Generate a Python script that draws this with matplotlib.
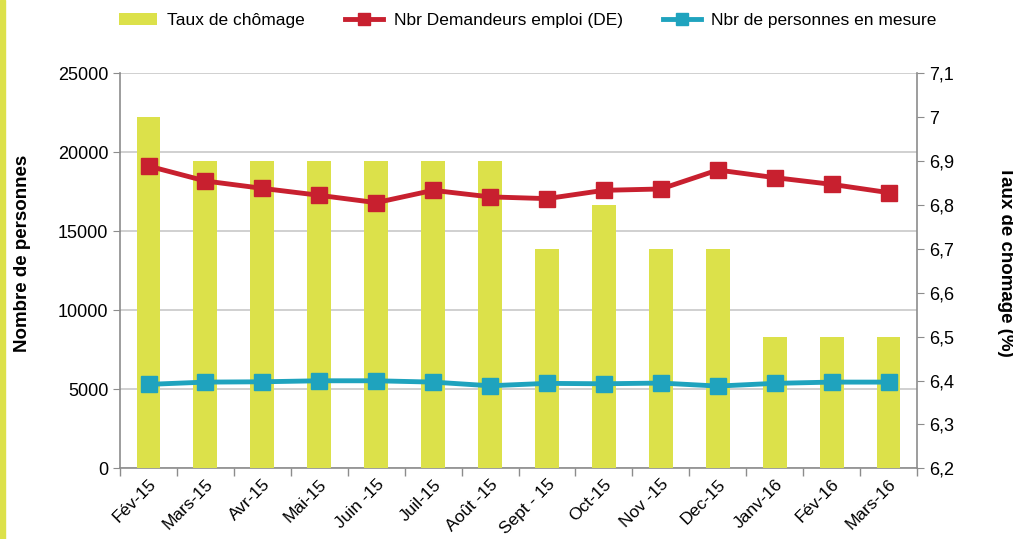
import matplotlib.pyplot as plt
from matplotlib.patches import Rectangle
from matplotlib.ticker import FuncFormatter
import numpy as np

plt.rcParams['font.family'] = ['Liberation Sans', 'DejaVu Sans']

# données
mois = ['Fév-15', 'Mars-15', 'Avr-15', 'Mai-15', 'Juin -15', 'Juil-15', 'Août -15',
        'Sept - 15', 'Oct-15', 'Nov -15', 'Dec-15', 'Janv-16', 'Fév-16', 'Mars-16']
taux = [7.0, 6.9, 6.9, 6.9, 6.9, 6.9, 6.9, 6.7, 6.8, 6.7, 6.7, 6.5, 6.5, 6.5]
demandeurs = [19130, 18185, 17720, 17280, 16815, 17595, 17180, 17070, 17595, 17680,
              18880, 18400, 17975, 17450]
mesure = [5316, 5460, 5480, 5544, 5544, 5460, 5228, 5380, 5354, 5400, 5209, 5380,
          5460, 5460]

jaune = '#dce14a'
rouge = '#c8202f'
bleu = '#1fa3be'
gris = '#8c8c8c'

fig = plt.figure(figsize=(10.13, 5.39), dpi=100)
fig.patches.append(Rectangle((0, 0), 5 / 1013, 1, transform=fig.transFigure,
                             color=jaune, zorder=0))

pos = [0.1185, 0.131, 0.9052 - 0.1185, 0.864 - 0.131]
x = np.arange(len(mois))

# axe de gauche : graduations + grille
ax = fig.add_axes(pos)
ax.set_ylim(0, 25000)
ax.set_yticks(range(0, 25001, 5000))
ax.set_xlim(-0.5, len(mois) - 0.5)
ax.grid(axis='y', color='#c8c8c8', lw=1.2)
ax.set_axisbelow(True)
for s in ['top', 'right']:
    ax.spines[s].set_visible(False)
for s in ['left', 'bottom']:
    ax.spines[s].set_color(gris)
    ax.spines[s].set_linewidth(1.2)
ax.tick_params(axis='y', colors=gris, labelcolor='black', labelsize=13, length=5)
ax.set_xticks(x)
ax.set_xticklabels(mois, rotation=45, ha='right', rotation_mode='anchor', fontsize=12.5)
ax.set_xticks(np.arange(-0.5, len(mois)), minor=True)
ax.tick_params(axis='x', which='major', length=0, pad=6)
ax.tick_params(axis='x', which='minor', length=6, colors=gris, width=1)

# axe de droite : barres du taux
ax2 = ax.twinx()
ax2.set_zorder(1)
ax2.patch.set_visible(False)
b = ax2.bar(x, taux, width=0.42, bottom=0, color=jaune, label='Taux de chômage')
ax2.set_ylim(6.2, 7.1)
ax2.set_yticks(np.arange(6.2, 7.11, 0.1))
ax2.yaxis.set_major_formatter(FuncFormatter(lambda v, p: ('%g' % round(v, 1)).replace('.', ',')))
ax2.tick_params(axis='y', colors=gris, labelcolor='black', labelsize=13, length=5)
for s in ['top', 'left', 'bottom']:
    ax2.spines[s].set_visible(False)
ax2.spines['right'].set_color(gris)
ax2.spines['right'].set_linewidth(1.2)

# courbes au-dessus des barres
ax3 = ax.twinx()
ax3.set_zorder(2)
ax3.patch.set_visible(False)
ax3.set_ylim(0, 25000)
ax3.axis('off')
l1, = ax3.plot(x, demandeurs, color=rouge, lw=3.5, marker='s', ms=11,
               label='Nbr Demandeurs emploi (DE)')
l2, = ax3.plot(x, mesure, color=bleu, lw=3.5, marker='s', ms=11,
               label='Nbr de personnes en mesure')

fig.legend([b, l1, l2], [b.get_label(), l1.get_label(), l2.get_label()],
           loc='center', bbox_to_anchor=(0.521, 0.962), ncol=3, frameon=False,
           fontsize=12.5, handlelength=2.2, handletextpad=0.6, columnspacing=2.3,
           markerscale=0.8)

fig.text(0.022, 0.53, 'Nombre de personnes', rotation=90, ha='center', va='center',
         fontsize=13.5, fontweight='bold')
fig.text(0.993, 0.515, 'Taux de chomage (%)', rotation=-90, ha='center', va='center',
         fontsize=13.5, fontweight='bold')

fig.savefig('out.png', dpi=100)
